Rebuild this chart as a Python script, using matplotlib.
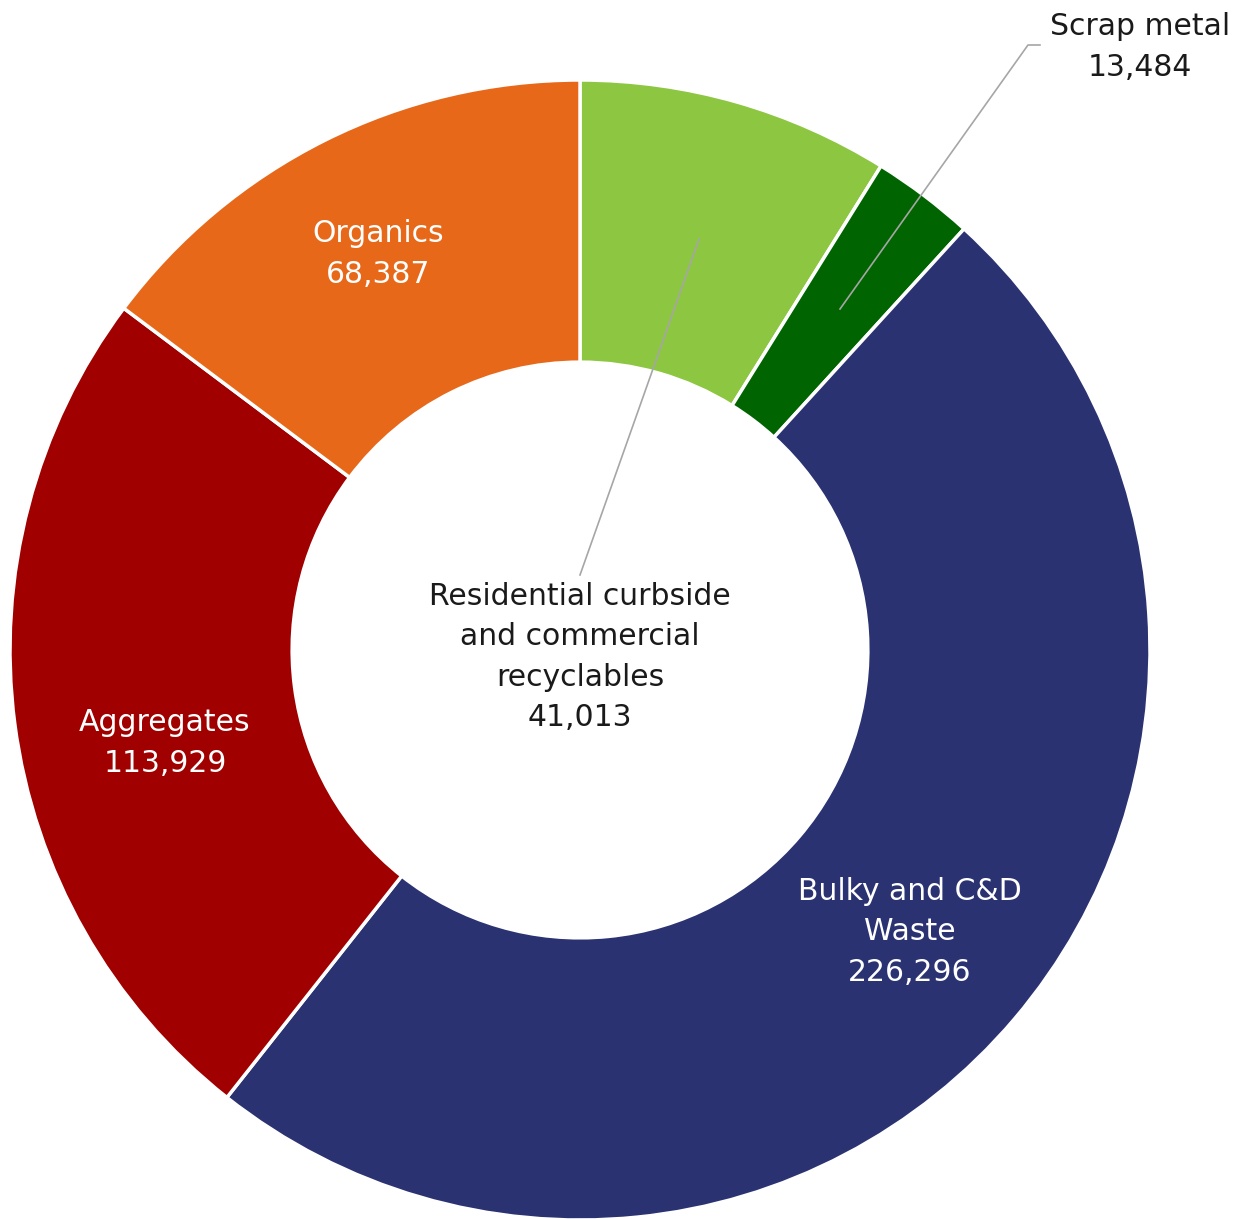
import matplotlib.pyplot as plt

# waste tonnage by stream, clockwise from 12 o'clock
categories = ['Residential curbside\nand commercial\nrecyclables', 'Scrap metal',
              'Bulky and C&D\nWaste', 'Aggregates', 'Organics']
values = [41013, 13484, 226296, 113929, 68387]
colors = ['#8DC641', '#006400', '#2A3271', '#A00000', '#E8681A']
text_colors = ['#1a1a1a', '#1a1a1a', 'white', 'white', 'white']

W, H = 1253, 1219
cx, cy, R = 580, 650, 570  # pixel centre / radius of the ring

def px2data(px, py):
    return (px - cx) / R, (cy - py) / R

fig = plt.figure(figsize=(W / 100, H / 100), dpi=100)
ax = fig.add_axes([(cx - R) / W, (H - cy - R) / H, 2 * R / W, 2 * R / H])
ax.pie(values, colors=colors, startangle=90, counterclock=False, radius=1.0,
       wedgeprops=dict(width=0.495, edgecolor='white', linewidth=2.5))
ax.set_xlim(-1, 1)
ax.set_ylim(-1, 1)
ax.set_aspect('equal')
ax.axis('off')

font = 'DejaVu Sans'
fs = 21.5

# label anchor points (pixel centre of text block)
label_pos = [(580, 657), (1140, 47), (910, 932), (165, 743), (378, 254)]
for cat, v, tc, (lx, ly) in zip(categories, values, text_colors, label_pos):
    x, y = px2data(lx, ly)
    ax.text(x, y, cat + '\n' + f'{v:,}', ha='center', va='center', color=tc,
            fontsize=fs, family=font, linespacing=1.5, clip_on=False)

# leader lines
lx1, ly1 = px2data(580, 575)
lx2, ly2 = px2data(699, 239)
ax.plot([lx1, lx2], [ly1, ly2], color='#A6A6A6', lw=1.2, clip_on=False)
sx1, sy1 = px2data(840, 309)
sx2, sy2 = px2data(1028, 45)
sx3, sy3 = px2data(1040, 45)
ax.plot([sx1, sx2, sx3], [sy1, sy2, sy3], color='#A6A6A6', lw=1.2, clip_on=False)

fig.savefig('out.png', dpi=100)
